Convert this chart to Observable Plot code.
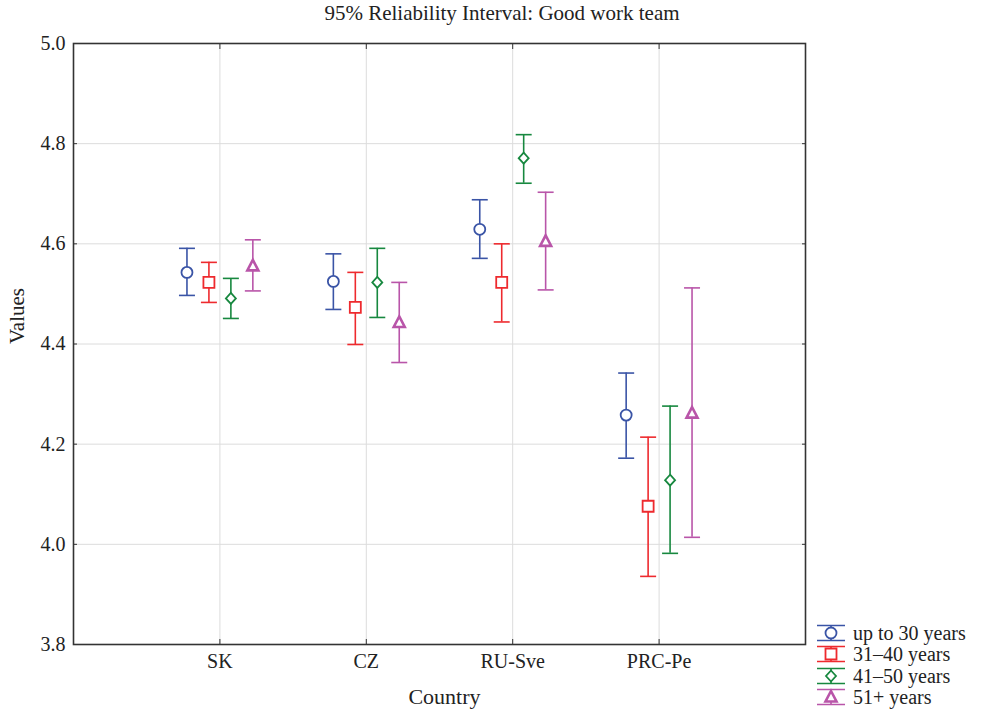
<!DOCTYPE html>
<html>
<head>
<meta charset="utf-8">
<script src="https://cdn.jsdelivr.net/npm/d3@7"></script>
<script src="https://cdn.jsdelivr.net/npm/@observablehq/plot@0.6"></script>
<style>
  html, body { margin: 0; padding: 0; background: white; }
</style>
</head>
<body>
<div id="chart"></div>
<script>
const countries = ["SK", "CZ", "RU-Sve", "PRC-Pe"];
const groups = ["up to 30 years", "31–40 years", "41–50 years", "51+ years"];
const colors = ["#3a54a6", "#ee2a2e", "#17883f", "#b955a9"];

const meanUpTo30 = [4.543, 4.525, 4.629, 4.258];
const lowUpTo30  = [4.497, 4.469, 4.571, 4.172];
const highUpTo30 = [4.591, 4.580, 4.688, 4.342];

const mean31to40 = [4.523, 4.473, 4.523, 4.076];
const low31to40  = [4.483, 4.399, 4.444, 3.936];
const high31to40 = [4.563, 4.543, 4.600, 4.214];

const mean41to50 = [4.491, 4.523, 4.771, 4.128];
const low41to50  = [4.451, 4.453, 4.721, 3.982];
const high41to50 = [4.531, 4.591, 4.818, 4.276];

const mean51plus = [4.556, 4.443, 4.605, 4.262];
const low51plus  = [4.506, 4.363, 4.508, 4.014];
const high51plus = [4.608, 4.523, 4.703, 4.512];

const yTicks = [3.8, 4.0, 4.2, 4.4, 4.6, 4.8, 5.0];
const title = "95% Reliability Interval: Good work team";
const xLabel = "Country";
const yLabel = "Values";

const means = [meanUpTo30, mean31to40, mean41to50, mean51plus];
const lows = [lowUpTo30, low31to40, low41to50, low51plus];
const highs = [highUpTo30, high31to40, high41to50, high51plus];

const rows = groups.flatMap((g, gi) => countries.map((c, ci) => ({
  country: c, group: g, gi, ci,
  mean: means[gi][ci], low: lows[gi][ci], high: highs[gi][ci]
})));

const xPos = d => d.ci + 1 + (d.gi - 1.5) * 0.15;

const capSymbol = { draw(ctx) { ctx.moveTo(-8, 0); ctx.lineTo(8, 0); } };
const circleSym = { draw(ctx) { ctx.moveTo(5.5, 0); ctx.arc(0, 0, 5.5, 0, 2 * Math.PI); } };
const squareSym = { draw(ctx) { ctx.moveTo(-5.5, -5.5); ctx.lineTo(5.5, -5.5); ctx.lineTo(5.5, 5.5); ctx.lineTo(-5.5, 5.5); ctx.closePath(); } };
const diamondSym = { draw(ctx) { ctx.moveTo(0, -5.5); ctx.lineTo(5, 0); ctx.lineTo(0, 5.5); ctx.lineTo(-5, 0); ctx.closePath(); } };
const triangleSym = { draw(ctx) { ctx.moveTo(0, -6); ctx.lineTo(5.5, 4.5); ctx.lineTo(-5.5, 4.5); ctx.closePath(); } };
const symbols = [circleSym, squareSym, diamondSym, triangleSym];

const font = "'Liberation Serif', 'DejaVu Serif', serif";

const chart = Plot.plot({
  width: 981,
  height: 710,
  marginLeft: 73,
  marginRight: 176,
  marginTop: 43,
  marginBottom: 66,
  style: { fontFamily: font, fontSize: "20px", color: "#222", background: "white" },
  x: { domain: [0, 5] },
  y: { domain: [3.8, 5.0] },
  color: { domain: groups, range: colors },
  marks: [
    Plot.gridY(yTicks, { stroke: "#dcdcdc", strokeOpacity: 1 }),
    Plot.gridX([1, 2, 3, 4], { stroke: "#dcdcdc", strokeOpacity: 1 }),
    Plot.frame({ stroke: "#333", strokeWidth: 1.6 }),
    Plot.axisY(yTicks, { anchor: "left", tickSize: 0, tickPadding: 8, tickFormat: d3.format(".1f"), label: null, fontSize: 20 }),
    Plot.axisY(yTicks, { anchor: "left", tickSize: 4, dx: 4, fill: "none", label: null, stroke: "#333" }),
    Plot.axisY(yTicks, { anchor: "right", tickSize: 4, dx: -4, fill: "none", label: null, stroke: "#333" }),
    Plot.axisX([1, 2, 3, 4], { anchor: "bottom", tickSize: 0, tickPadding: 9, tickFormat: i => countries[i - 1], label: null, fontSize: 20 }),
    Plot.axisX([1, 2, 3, 4], { anchor: "bottom", tickSize: 5, dy: -5, fill: "none", label: null, stroke: "#333" }),
    Plot.axisX([1, 2, 3, 4], { anchor: "top", tickSize: 5, dy: 5, fill: "none", label: null, stroke: "#333" }),
    Plot.text([yLabel], { frameAnchor: "left", rotate: -90, dx: -56, fontSize: 21, fill: "#222" }),
    Plot.text([xLabel], { frameAnchor: "bottom", dy: 59, dx: 5, fontSize: 22, fill: "#222" }),
    Plot.ruleX(rows, { x: xPos, y1: "low", y2: "high", stroke: "group", strokeWidth: 1.6 }),
    Plot.dot(rows, { x: xPos, y: "low", symbol: capSymbol, stroke: "group", strokeWidth: 1.6, r: 5 }),
    Plot.dot(rows, { x: xPos, y: "high", symbol: capSymbol, stroke: "group", strokeWidth: 1.6, r: 5 }),
    ...groups.map((g, i) => Plot.dot(rows, {
      filter: d => d.gi === i, x: xPos, y: "mean", symbol: symbols[i],
      stroke: "group", fill: "white", strokeWidth: i === 3 ? 2.6 : 1.8, r: 5
    }))
  ]
});

const svg = d3.select(chart);
svg.append("text")
  .attr("x", 502).attr("y", 20)
  .attr("text-anchor", "middle")
  .attr("font-family", font).attr("font-size", 21).attr("fill", "#222")
  .text(title);

const legend = svg.append("g");
const legendRows = [633, 654, 676, 697];
groups.forEach((g, i) => {
  const y = legendRows[i];
  const gx = 831;
  const bar = d3.path();
  bar.moveTo(gx, y - 7.5); bar.lineTo(gx, y + 7.5);
  bar.moveTo(gx - 14, y - 7.5); bar.lineTo(gx + 14, y - 7.5);
  bar.moveTo(gx - 14, y + 7.5); bar.lineTo(gx + 14, y + 7.5);
  legend.append("path").attr("d", bar.toString())
    .attr("fill", "none").attr("stroke", colors[i]).attr("stroke-width", 1.6);
  const p = d3.path();
  symbols[i].draw(p);
  legend.append("path").attr("d", p.toString()).attr("transform", `translate(${gx},${y})`)
    .attr("fill", "white").attr("stroke", colors[i])
    .attr("stroke-width", i === 3 ? 2.6 : 1.8);
  legend.append("text")
    .attr("x", 853).attr("y", y).attr("dy", "0.35em")
    .attr("text-anchor", "start")
    .attr("font-family", font).attr("font-size", 20).attr("fill", "#222")
    .text(g);
});

document.getElementById("chart").appendChild(chart);
</script>
</body>
</html>
